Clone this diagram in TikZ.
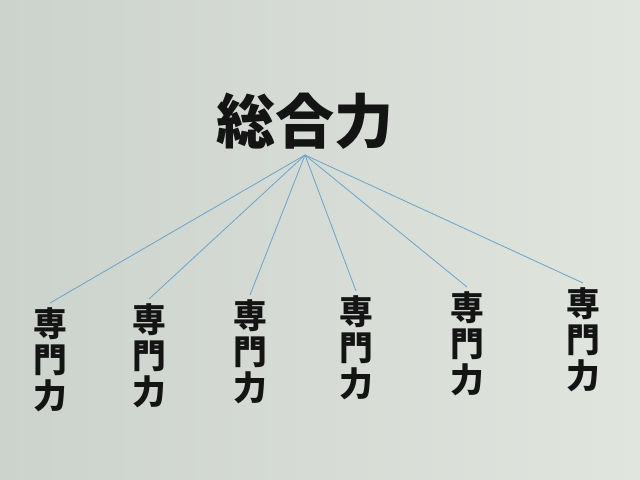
\documentclass[tikz,border=0pt]{standalone}
\usepackage{fontspec}
\newfontfamily\cjk{Noto Sans CJK JP}
\usetikzlibrary{positioning}
\definecolor{slidedark}{RGB}{204,210,204}
\definecolor{slidelight}{RGB}{224,229,222}
\definecolor{linkblue}{RGB}{110,165,205}
\definecolor{ink}{RGB}{20,20,20}

\begin{document}
\begin{tikzpicture}[x=0.025cm,y=-0.025cm]
\tikzset{
  sogo/.style={font=\cjk\bfseries\fontsize{42}{42}\selectfont, text=ink, inner sep=0pt},
  senmon/.style={font=\cjk\bfseries\fontsize{24}{25.5}\selectfont, text=ink, align=center, inner sep=0pt, anchor=north},
  link/.style={linkblue, line width=0.6pt},
}
\shade[left color=slidedark, right color=slidelight] (0,0) rectangle (640,480);
\node[sogo] (top) at (305,121) {総合力};
\coordinate (apex) at (305,155);
\foreach \i/\x/\y in {1/50/303, 2/149/299, 3/250/295, 4/356/291, 5/467/287, 6/583/283}{
  \coordinate (end\i) at (\x,\y);
  \node[senmon, below=3pt of end\i] (sm\i) {専\\門\\力};
  \draw[link] (apex) -- (end\i);
}
\end{tikzpicture}
\end{document}
